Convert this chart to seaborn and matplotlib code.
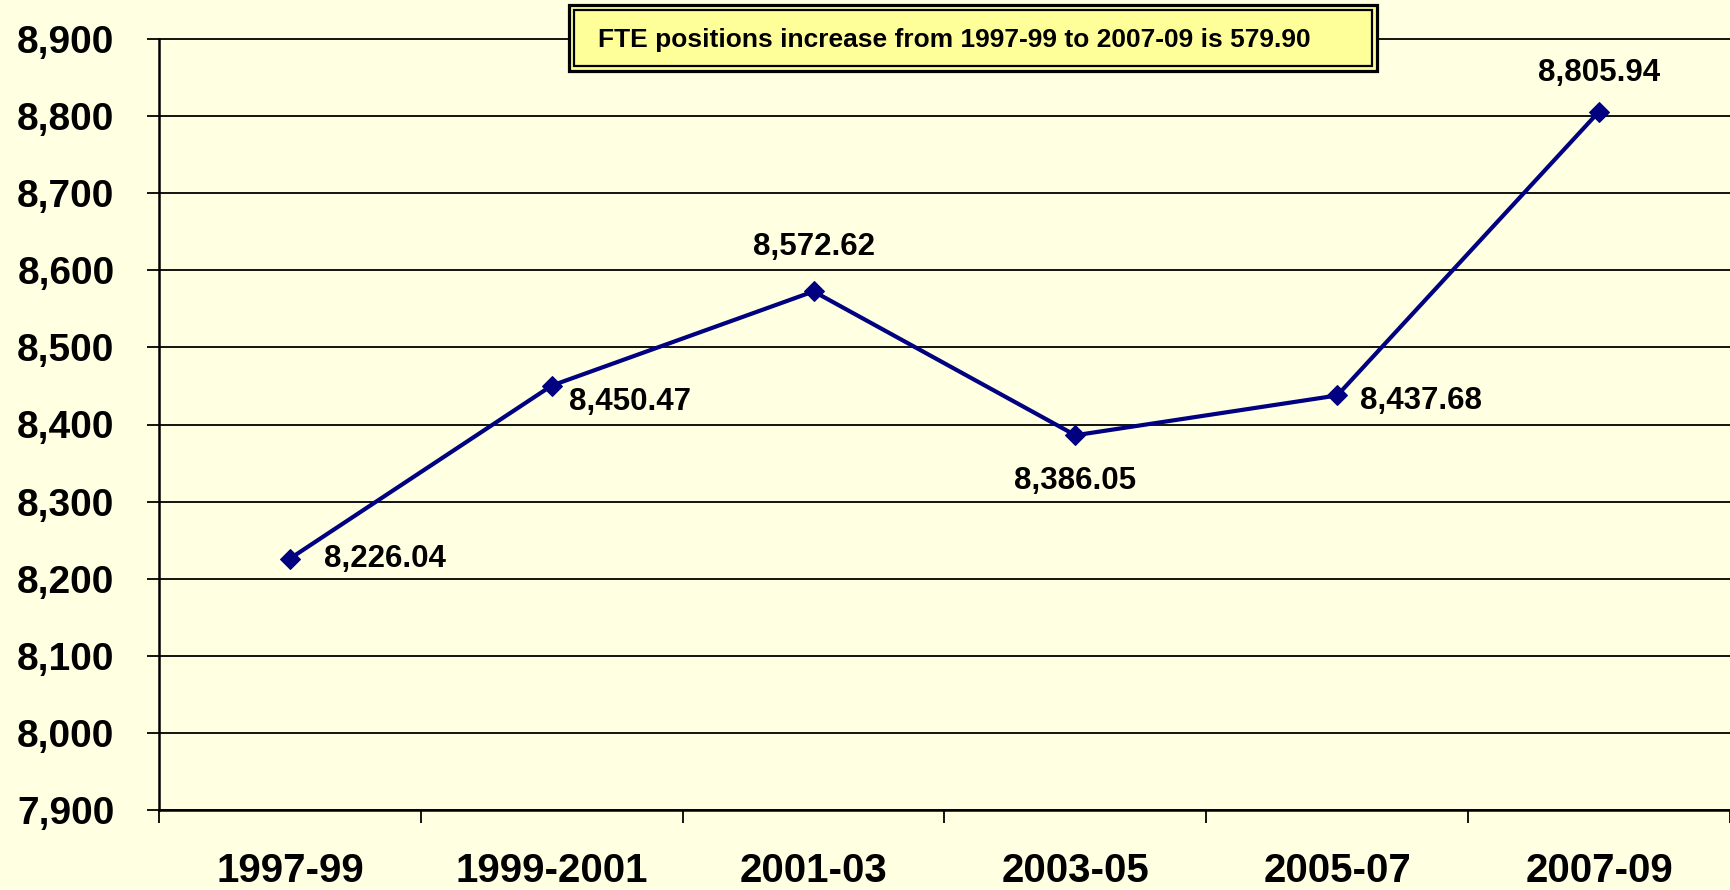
import matplotlib
matplotlib.use("Agg")
import matplotlib.pyplot as plt
import seaborn as sns
import pandas as pd
from matplotlib.ticker import FuncFormatter, FixedLocator

# Dados
periodos = ["1997-99", "1999-2001", "2001-03", "2003-05", "2005-07", "2007-09"]
fte = [8226.04, 8450.47, 8572.62, 8386.05, 8437.68, 8805.94]
rotulos = ["8,226.04", "8,450.47", "8,572.62", "8,386.05", "8,437.68", "8,805.94"]
titulo_caixa = "FTE positions increase from 1997-99 to 2007-09 is 579.90"

# deslocamento dos rotulos (pixels) e alinhamento
offsets = [(34, 0, "left"), (17, -16, "left"), (0, 44, "center"),
           (0, -46, "center"), (23, -6, "left"), (0, 39, "center")]

sns.set_style("white")
plt.rcParams['font.family'] = ['Liberation Sans', 'DejaVu Sans']
plt.rcParams['font.weight'] = 'bold'
plt.rcParams['text.color'] = 'black'
plt.rcParams['xtick.color'] = 'black'
plt.rcParams['ytick.color'] = 'black'

bg = "#FFFFE2"
W, H = 1730, 890
fig = plt.figure(figsize=(17.3, 8.9), dpi=100, facecolor=bg)
ax = fig.add_axes([159 / W, 1 - 810 / H, 1 - 159 / W, (810 - 39) / H])
ax.set_facecolor(bg)

df = pd.DataFrame({"periodo": periodos, "fte": fte})
sns.lineplot(data=df, x="periodo", y="fte", sort=False, color="#000080",
             linewidth=3, marker="D", markersize=10.5, markeredgecolor="#000080",
             ax=ax, zorder=3)

ax.set_ylim(7900, 8900)
ax.set_xlim(-0.5, 5.5)
ax.set_yticks(range(7900, 8901, 100))
ax.yaxis.set_major_formatter(FuncFormatter(lambda v, p: f"{int(v):,}"))
ax.grid(axis="y", color="black", linewidth=1.3)
ax.set_axisbelow(True)
for gl in ax.get_ygridlines():
    gl.set_clip_on(False)

ax.set_xticks(range(len(periodos)))
ax.set_xticklabels(periodos)
ax.xaxis.set_minor_locator(FixedLocator([i - 0.5 for i in range(len(periodos) + 1)]))
ax.tick_params(axis="x", which="major", bottom=True, length=0, pad=30, labelsize=29,
               labelcolor="black")
ax.tick_params(axis="x", which="minor", bottom=True, length=9, width=1.3,
               color="black", direction="out")
ax.tick_params(axis="y", left=True, length=9, width=1.3, color="black",
               direction="out", pad=23, labelsize=28, labelcolor="black")
ax.set_xlabel("")
ax.set_ylabel("")

for s in ["top", "right"]:
    ax.spines[s].set_visible(False)
for s in ["left", "bottom"]:
    ax.spines[s].set_color("black")
    ax.spines[s].set_linewidth(1.8)

for i, (v, r) in enumerate(zip(fte, rotulos)):
    dx, dy, ha = offsets[i]
    ax.annotate(r, (i, v), xytext=(dx, dy), textcoords="offset pixels",
                ha=ha, va="center", fontsize=22.5, fontweight="bold", color="black")

# Caixa do titulo com borda dupla
x0, x1, y0, y1 = 569, 1377, 5, 71
outer = plt.Rectangle((x0 / W, 1 - y1 / H), (x1 - x0) / W, (y1 - y0) / H,
                      transform=fig.transFigure, facecolor="#FFFF99",
                      edgecolor="black", linewidth=2.3, zorder=8)
fig.patches.append(outer)
d = 5
inner = plt.Rectangle(((x0 + d) / W, 1 - (y1 - d) / H), (x1 - x0 - 2 * d) / W,
                      (y1 - y0 - 2 * d) / H, transform=fig.transFigure,
                      fill=False, edgecolor="black", linewidth=1.6, zorder=9)
fig.patches.append(inner)
fig.text(598 / W, 1 - 40 / H, titulo_caixa, ha="left", va="center",
         fontsize=19, fontweight="bold", color="black", zorder=10)

plt.savefig("out.png", dpi=100, facecolor=bg)
